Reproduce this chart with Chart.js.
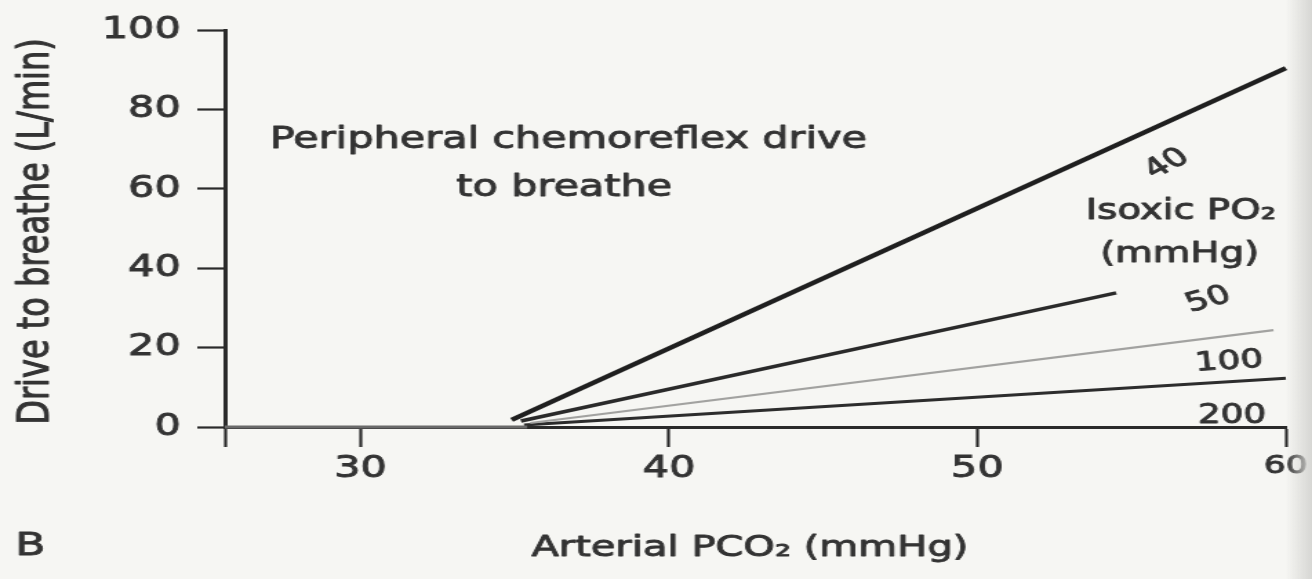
<!DOCTYPE html>
<html><head><meta charset="utf-8">
<script src="https://cdn.jsdelivr.net/npm/chart.js@4"></script>
<style>
html,body{margin:0;padding:0;width:1312px;height:579px;overflow:hidden;background:#f6f6f3;}
#wrap{position:absolute;left:0;top:0;width:951px;height:579px;transform:scaleX(1.3796);transform-origin:0 0;}
#edge{position:absolute;right:0;top:0;width:26px;height:579px;background:linear-gradient(to right, rgba(225,225,222,0), #d6d6d3);pointer-events:none;}
</style></head>
<body><div id="wrap"><canvas id="c" width="951" height="579"></canvas></div><div id="edge"></div>
<script>
// Axis ranges and tick labels
const xMin = 25.6, xMax = 60;
const xTickValues = [30, 40, 50, 60];
const yTickValues = [0, 20, 40, 60, 80, 100];

// Series: isoxic PO2 (mmHg) response lines, x = arterial PCO2, y = drive to breathe
const seriesNames = ['40', '50', '100', '200'];
const po2_40_x = [34.9, 60];
const po2_40_y = [1.8, 90.4];
const po2_50_x = [35.2, 54.5];
const po2_50_y = [1.5, 33.8];
const po2_100_x = [35.5, 59.6];
const po2_100_y = [1.0, 24.4];
const po2_200_x = [35.3, 60];
const po2_200_y = [0.5, 12.3];
// Below threshold: no drive
const base_x = [25.6, 35.4];
const base_y = [0, 0];

const xTitle = 'Arterial PCO\u2082 (mmHg)';
const yTitle = 'Drive to breathe (L/min)';

const pts = (xs, ys) => xs.map((x, i) => ({x, y: ys[i]}));
const FAM = '"DejaVu Sans", "Liberation Sans", sans-serif';
const INK = '#333333';

const notes = {
  id: 'notes',
  afterDraw(chart) {
    const c = chart.ctx;
    const a = chart.chartArea;
    c.save();
    c.fillStyle = INK;
    c.strokeStyle = INK;
    c.lineWidth = 0.9;
    c.lineJoin = 'round';
    c.textAlign = 'center';
    c.textBaseline = 'middle';
    const txt = (t, x, y, s, ang) => {
      c.save(); c.translate(x, y); if (ang) c.rotate(ang);
      c.font = s + 'px ' + FAM; c.fillText(t, 0, 0); c.strokeText(t, 0, 0); c.restore();
    };
    txt('Peripheral chemoreflex drive', 412, 140, 30);
    txt('to breathe', 409, 188, 30);
    txt('Isoxic PO\u2082', 856, 212, 28);
    txt('(mmHg)', 855, 255, 28);
    txt(seriesNames[0], 846, 164, 26, -0.62);
    txt(seriesNames[1], 876, 300, 26, -0.35);
    txt(seriesNames[2], 891, 362, 26, -0.08);
    txt(seriesNames[3], 893, 416, 26, 0);
    txt('B', 22, 547, 32);
    // axis titles
    txt(xTitle, (a.left + a.right) / 2 - 4, 548, 29);
    txt(yTitle, 27, (a.top + a.bottom) / 2 + 3, 32, -Math.PI / 2);
    c.restore();
  }
};

const lineDs = (label, data, color, width) => ({
  label, data, borderColor: color, borderWidth: width, pointRadius: 0,
  tension: 0, fill: false, clip: false
});

new Chart(document.getElementById('c'), {
  type: 'line',
  data: {
    datasets: [
      lineDs('baseline', pts(base_x, base_y), '#6a6a6a', 3),
      lineDs(seriesNames[2], pts(po2_100_x, po2_100_y), '#a2a2a0', 2.2),
      lineDs(seriesNames[3], pts(po2_200_x, po2_200_y), '#2c2c2c', 3),
      lineDs(seriesNames[1], pts(po2_50_x, po2_50_y), '#2a2a2a', 3.5),
      lineDs(seriesNames[0], pts(po2_40_x, po2_40_y), '#1f1f1f', 4.2)
    ]
  },
  options: {
    responsive: false,
    animation: false,
    devicePixelRatio: 1,
    layout: {padding: {left: 0, right: 19, top: 30, bottom: 0}},
    plugins: {legend: {display: false}, tooltip: {enabled: false}},
    scales: {
      x: {
        type: 'linear', min: xMin, max: xMax,
        afterBuildTicks: s => { s.ticks = [xMin].concat(xTickValues).map(v => ({value: v})); },
        afterFit: s => { s.height = 152; s.paddingLeft = 0; s.paddingRight = 0; },
        grid: {drawOnChartArea: false, drawTicks: true, tickLength: 20, tickWidth: 2.2, tickColor: '#2a2a2a'},
        border: {display: true, width: 3, color: '#2a2a2a'},
        ticks: {
          maxRotation: 0, autoSkip: false, padding: 4, color: INK,
          textStrokeColor: INK, textStrokeWidth: 0.9,
          font: ctx => ({family: FAM, size: (ctx.tick && ctx.tick.value === 60) ? 25 : 30}),
          callback: v => xTickValues.includes(v) ? String(v) : ''
        },
        title: {display: false}
      },
      y: {
        type: 'linear', min: 0, max: 100,
        afterBuildTicks: s => { s.ticks = yTickValues.map(v => ({value: v})); },
        afterFit: s => { s.width = 163; s.paddingTop = 0; s.paddingBottom = 0; },
        grid: {drawOnChartArea: false, drawTicks: true, tickLength: 20, tickWidth: 2.2, tickColor: '#2a2a2a'},
        border: {display: true, width: 3, color: '#2a2a2a'},
        ticks: {padding: 12, color: INK, textStrokeColor: INK, textStrokeWidth: 0.9,
          font: {family: FAM, size: 30}},
        title: {display: false}
      }
    }
  },
  plugins: [notes]
});
</script></body></html>
